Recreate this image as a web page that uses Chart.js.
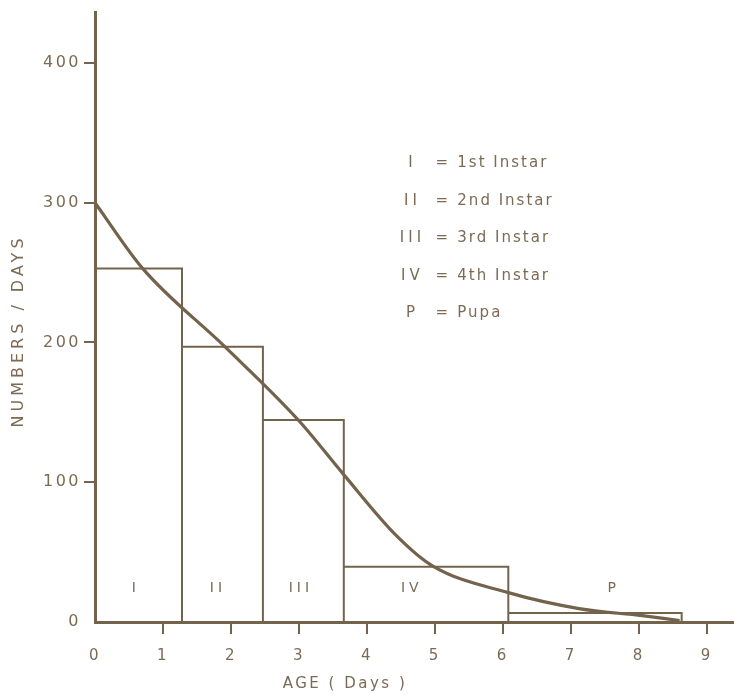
<!DOCTYPE html>
<html>
<head>
<meta charset="utf-8">
<script src="https://cdn.jsdelivr.net/npm/chart.js@4.4.0/dist/chart.umd.min.js"></script>
<style>
  html, body { margin: 0; padding: 0; background: #fff; }
  #wrap { width: 734px; height: 695px; position: relative; }
</style>
</head>
<body>
<div id="wrap"><canvas id="chart"></canvas></div>
<script>
// stages of development (histogram, variable width)
const stages = ['I', 'II', 'III', 'IV', 'P'];
const stageNames = ['1st Instar', '2nd Instar', '3rd Instar', '4th Instar', 'Pupa'];
const stageEnds = [1.28, 2.47, 3.66, 6.08, 8.63];      // age (days) where each stage ends
const stageHeights = [253, 197, 144.5, 39.5, 6.4];     // numbers / days

// smoothed curve
const curveDays = [0, 0.7, 1.91, 3.0, 3.65, 4.43, 4.97, 6.08, 7.12, 8.05, 8.6];
const curveValues = [300, 253, 197, 144, 106, 62, 40, 21, 9.6, 4.5, 1];

const ink = '#74634c';
const textInk = '#7c6b54';

// outline of the histogram bars
let outline = [];
let start = 0;
stageEnds.forEach((end, i) => {
  outline.push({x: start, y: stageHeights[i]});
  outline.push({x: end, y: stageHeights[i]});
  outline.push({x: end, y: 0});
  start = end;
});

const curve = curveDays.map((d, i) => ({x: d, y: curveValues[i]}));

const textPlugin = {
  id: 'texts',
  beforeDraw(chart) {
    chart.ctx.letterSpacing = '2.5px';
  },
  afterDraw(chart) {
    const ctx = chart.ctx;
    const xs = chart.scales.x;
    const ys = chart.scales.y;
    ctx.save();
    ctx.fillStyle = textInk;
    ctx.textBaseline = 'middle';

    // axis titles
    ctx.font = '16px "DejaVu Sans"';
    ctx.letterSpacing = '4px';
    ctx.save();
    ctx.translate(19, 331);
    ctx.rotate(-Math.PI / 2);
    ctx.textAlign = 'center';
    ctx.fillText('NUMBERS / DAYS', 0, 0);
    ctx.restore();

    ctx.font = '15px "DejaVu Sans"';
    ctx.letterSpacing = '2.5px';
    ctx.textAlign = 'center';
    ctx.fillText('AGE ( Days )', 345, 684);

    // stage labels inside bars
    const labelDays = [0.57, 1.78, 3.0, 4.63, 7.6];
    ctx.font = '14px "DejaVu Sans"';
    ctx.letterSpacing = '4px';
    stages.forEach((s, i) => {
      ctx.fillText(s, xs.getPixelForValue(labelDays[i]) + 2, ys.getPixelForValue(24));
    });

    // key
    ctx.font = '15px "DejaVu Sans"';
    const rowTop = ys.getPixelForValue(328);
    stages.forEach((s, i) => {
      const y = rowTop + i * 37.5;
      ctx.letterSpacing = '4px';
      ctx.textAlign = 'center';
      ctx.fillText(s, xs.getPixelForValue(4.64) + 2, y);
      ctx.letterSpacing = '0px';
      ctx.fillText('=', xs.getPixelForValue(5.1), y);
      ctx.letterSpacing = '2px';
      ctx.textAlign = 'left';
      ctx.fillText(stageNames[i], xs.getPixelForValue(5.33), y);
    });
    ctx.restore();
  }
};

const hideZero = c => (c.tick && c.tick.value === 0) ? 'rgba(0,0,0,0)' : ink;

new Chart(document.getElementById('chart'), {
  type: 'line',
  data: {
    datasets: [
      {
        data: outline,
        borderColor: ink,
        borderWidth: 2,
        pointRadius: 0,
        tension: 0,
        fill: false
      },
      {
        data: curve,
        borderColor: ink,
        borderWidth: 3.2,
        pointRadius: 0,
        cubicInterpolationMode: 'monotone',
        fill: false
      }
    ]
  },
  options: {
    responsive: true,
    maintainAspectRatio: false,
    animation: false,
    layout: {padding: {top: 3.5, right: 0, left: 0, bottom: 0}},
    plugins: {
      legend: {display: false},
      tooltip: {enabled: false}
    },
    scales: {
      x: {
        type: 'linear',
        min: 0,
        max: 9.4,
        afterFit: s => { s.height = 73; },
        border: {color: ink, width: 3},
        grid: {drawOnChartArea: false, drawTicks: true, tickLength: 12, color: hideZero, lineWidth: 2},
        ticks: {
          stepSize: 1,
          includeBounds: false,
          padding: 13,
          color: textInk,
          font: {family: 'DejaVu Sans', size: 15},
          maxRotation: 0
        }
      },
      y: {
        min: 0,
        max: 436,
        afterFit: s => { s.width = 95; },
        border: {color: ink, width: 3},
        grid: {drawOnChartArea: false, drawTicks: true, tickLength: 11, color: hideZero, lineWidth: 2},
        ticks: {
          stepSize: 100,
          includeBounds: false,
          padding: 3,
          color: textInk,
          font: {family: 'DejaVu Sans', size: 16}
        }
      }
    }
  },
  plugins: [textPlugin]
});
</script>
</body>
</html>
